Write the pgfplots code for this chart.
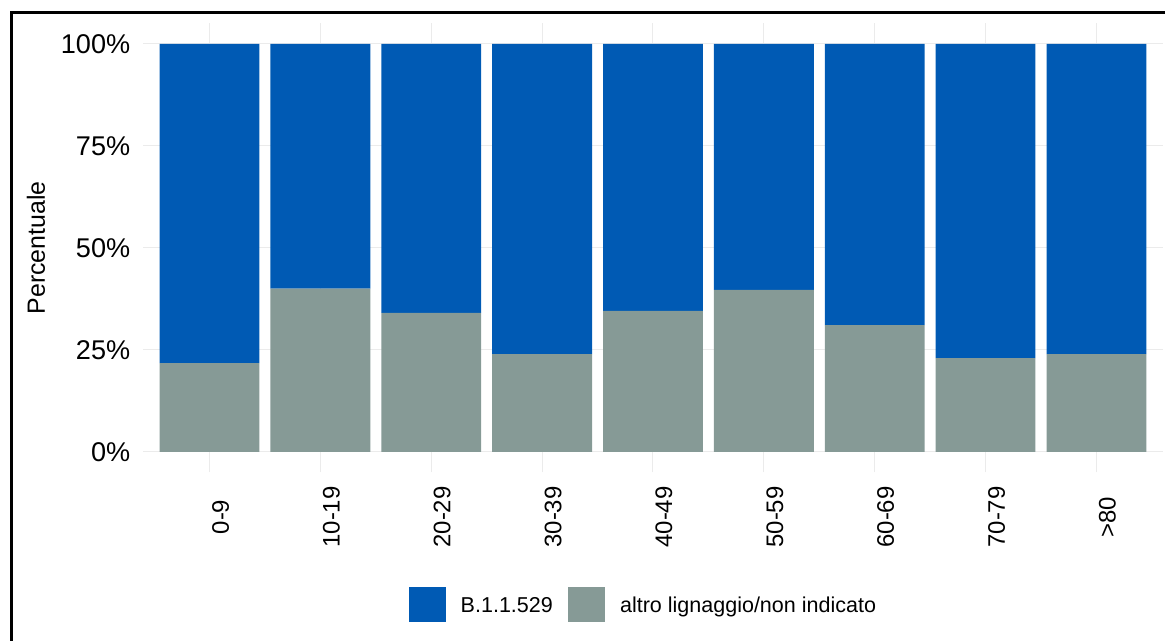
\documentclass[border=0pt]{standalone}
\usepackage{pgfplots}
\pgfplotsset{compat=1.18}
\usepackage{fontspec}
\setmainfont{Liberation Sans}
\definecolor{lineage}{HTML}{005AB4}
\definecolor{other}{HTML}{869A96}
\definecolor{gridc}{HTML}{EBEBEB}
\pgfplotsset{sqleg/.style={legend image code/.code={\fill[##1] (0bp,-8.75bp) rectangle (18.5bp,8.75bp);}}}

\begin{document}
\fontsize{12}{14}\selectfont
\begin{tikzpicture}
\path[use as bounding box] (0,0) rectangle (582.5bp,-320.5bp);
\draw[line width=1.5bp] (5.5bp,-320.5bp) -- (5.5bp,-6bp) -- (582.5bp,-6bp);
\begin{axis}[
  at={(71.5bp,-236.2bp)}, anchor=south west,
  scale only axis, width=510bp, height=224.5bp,
  ybar stacked, bar width=0.9,
  xmin=-0.6, xmax=8.6, ymin=-5, ymax=105,
  xtick={0,...,8},
  xticklabels={0-9,10-19,20-29,30-39,40-49,50-59,60-69,70-79,>80},
  ytick={0,25,50,75,100},
  yticklabels={0\%,25\%,50\%,75\%,100\%},
  grid=major, grid style={gridc, line width=0.5bp},
  axis line style={draw=none}, major tick length=0pt,
  xticklabel style={font=\fontsize{12}{14}\selectfont, xshift=5.5bp, yshift=-22.3bp, rotate=90, anchor=center},
  yticklabel style={font=\fontsize{13.6}{15}\selectfont, xshift=-2.2bp},
  ylabel={Percentuale},
  ylabel style={at={(axis description cs:-0.105,0.5)}, anchor=center, font=\fontsize{12.5}{14}\selectfont},
  reverse legend,
  legend columns=2,
  legend style={at={(axis description cs:0.497,-0.295)}, anchor=center,
    draw=none, fill=none, font=\fontsize{10.8}{13}\selectfont,
    /tikz/every even column/.append style={column sep=0.5bp},
    nodes={inner xsep=7.3bp, text height=7.7bp, text depth=0pt}},
]
\addplot[fill=other, draw=none, sqleg]
  coordinates {(0,21.8) (1,40.0) (2,34.1) (3,24.0) (4,34.6) (5,39.7) (6,31.1) (7,23.0) (8,24.0)};
\addplot[fill=lineage, draw=none, sqleg]
  coordinates {(0,78.2) (1,60.0) (2,65.9) (3,76.0) (4,65.4) (5,60.3) (6,68.9) (7,77.0) (8,76.0)};
\legend{altro lignaggio/non indicato, B.1.1.529}
\end{axis}
\end{tikzpicture}
\end{document}
